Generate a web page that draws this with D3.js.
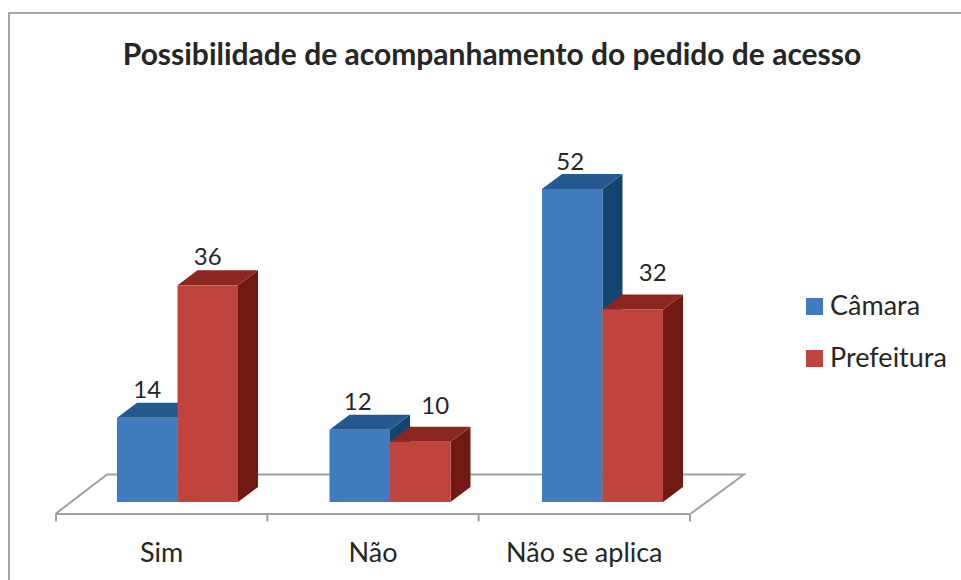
<!DOCTYPE html>
<html>
<head>
<meta charset="utf-8">
<script src="https://cdn.jsdelivr.net/npm/d3@7"></script>
<style>
  body { margin: 0; background: #fff; }
  text { font-family: Lato, "Open Sans", sans-serif; fill: #262626; }
</style>
</head>
<body>
<svg width="961" height="580"></svg>
<script>
var categories = ["Sim", "Não", "Não se aplica"];
var seriesNames = ["Câmara", "Prefeitura"];
var camara = [14, 12, 52];
var prefeitura = [36, 10, 32];
var chartTitle = "Possibilidade de acompanhamento do pedido de acesso";

var front = ["#3f7bbd", "#bf443d"];
var top3d = ["#265a8e", "#8c2621"];
var side = ["#144570", "#721914"];
var depthX = 20, depthY = -15;

// labels that were dragged by hand in the original, [dx, dy]
var labelNudge = {
  "Não|Câmara": [-2, 0],
  "Não|Prefeitura": [15, -8],
  "Não se aplica|Câmara": [-2, 1],
  "Não se aplica|Prefeitura": [20, -8]
};

var svg = d3.select("svg");

// chart frame, only top and left show in the crop
svg.append("path")
  .attr("d", "M9,580V13H961")
  .attr("fill", "none")
  .attr("stroke", "#a6a6a6")
  .attr("stroke-width", 2);

svg.append("text")
  .attr("x", 492).attr("y", 65)
  .attr("text-anchor", "middle")
  .attr("font-size", 30)
  .attr("font-weight", "bold")
  .text(chartTitle);

var y = d3.scaleLinear().domain([0, 52]).range([502, 189]);
var xAxis = d3.scaleBand().domain(categories).range([56, 690]);
// bars sit slightly off the axis bands because of the 3d shear
var x0 = d3.scaleBand().domain(categories).range([55, 692.5]);
var x1 = d3.scaleBand().domain(seriesNames).range([62, 183]);

// floor
svg.append("path")
  .attr("d", "M56,513.5L107,474.5H744L691,513.5")
  .attr("fill", "none")
  .attr("stroke", "#a0a0a0")
  .attr("stroke-width", 2);

// category axis
var axis = svg.append("g")
  .attr("transform", "translate(0,513.5)")
  .call(d3.axisBottom(xAxis).tickSize(0).tickPadding(29));
axis.select(".domain").attr("stroke", "#a0a0a0").attr("stroke-width", 2);
axis.selectAll("text").attr("font-size", 27).attr("font-family", "Lato");
axis.selectAll(".edge")
  .data(d3.range(4))
  .enter().append("line")
  .attr("class", "edge")
  .attr("x1", d => 56 + d * xAxis.step())
  .attr("x2", d => 56 + d * xAxis.step())
  .attr("y1", 0).attr("y2", 8)
  .attr("stroke", "#a0a0a0")
  .attr("stroke-width", 2);

// draw back to front: series by series inside each category
var rows = [];
categories.forEach(function(c, i) {
  rows.push({cat: c, s: 0, name: seriesNames[0], v: camara[i]});
  rows.push({cat: c, s: 1, name: seriesNames[1], v: prefeitura[i]});
});

var bar = svg.selectAll(".bar")
  .data(rows)
  .enter().append("g")
  .attr("class", "bar");

bar.append("path")
  .attr("fill", d => side[d.s])
  .attr("d", function(d) {
    var r = x0(d.cat) + x1(d.name) + x1.bandwidth();
    return "M" + r + "," + y(d.v) + "l" + depthX + "," + depthY + "V" + (y(0) + depthY) + "l" + (-depthX) + "," + (-depthY) + "Z";
  });

bar.append("path")
  .attr("fill", d => top3d[d.s])
  .attr("d", function(d) {
    var l = x0(d.cat) + x1(d.name);
    return "M" + l + "," + y(d.v) + "l" + depthX + "," + depthY + "h" + x1.bandwidth() + "l" + (-depthX) + "," + (-depthY) + "Z";
  });

bar.append("rect")
  .attr("x", d => x0(d.cat) + x1(d.name))
  .attr("y", d => y(d.v))
  .attr("width", x1.bandwidth())
  .attr("height", d => y(0) - y(d.v))
  .attr("fill", d => front[d.s]);

bar.append("text")
  .attr("x", function(d) {
    var n = labelNudge[d.cat + "|" + d.name] || [0, 0];
    return x0(d.cat) + x1(d.name) + x1.bandwidth() / 2 + n[0];
  })
  .attr("y", function(d) {
    var n = labelNudge[d.cat + "|" + d.name] || [0, 0];
    return y(d.v) - 20 + n[1];
  })
  .attr("text-anchor", "middle")
  .attr("font-size", 24)
  .text(d => d.v);

// legend
var legend = svg.selectAll(".legend")
  .data(seriesNames)
  .enter().append("g")
  .attr("class", "legend")
  .attr("transform", (d, i) => "translate(806," + (298 + i * 52) + ")");

legend.append("rect")
  .attr("width", 17).attr("height", 17)
  .attr("fill", (d, i) => front[i]);

legend.append("text")
  .attr("x", 24).attr("y", 17)
  .attr("font-size", 27)
  .text(d => d);
</script>
</body>
</html>
